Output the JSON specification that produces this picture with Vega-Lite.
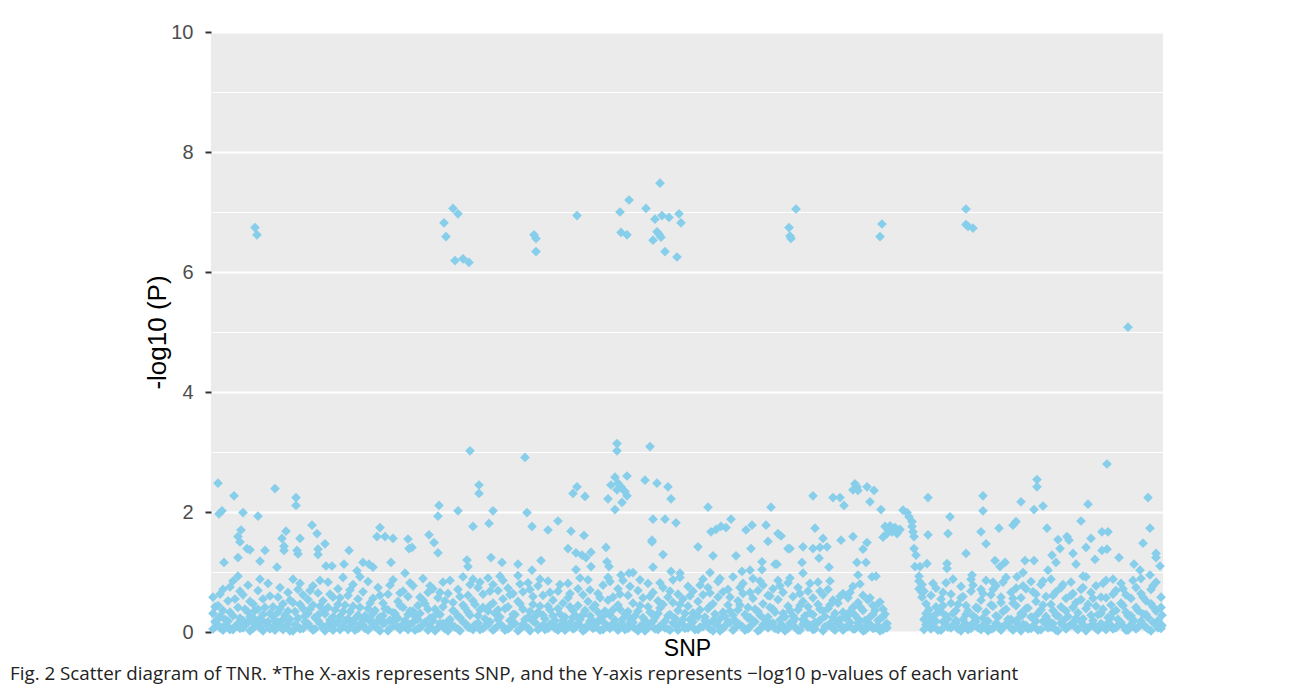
{
"$schema": "https://vega.github.io/schema/vega-lite/v6.json",
"width": 952,
"height": 600,
"autosize": {"type": "none"},
"padding": {"left": 211, "top": 32, "right": 130, "bottom": 65},
"background": "white",
"config": {"view": {"fill": "#EBEBEB", "stroke": null}},
"title": {"text": "Fig. 2  Scatter diagram of TNR. *The X-axis represents SNP, and the Y-axis represents −log10 p-values of each variant", "orient": "bottom", "anchor": "start", "frame": "group", "dx": -201, "offset": 5, "font": "Open Sans", "fontSize": 18.8, "fontWeight": "normal", "color": "#222222"},
"datasets": {
"pts": [
{"snp":255,"logp":6.74},{"snp":257,"logp":6.62},{"snp":444,"logp":6.82},{"snp":446,"logp":6.59},{"snp":453,"logp":7.06},{"snp":458,"logp":6.97},{"snp":455,"logp":6.19},{"snp":463,"logp":6.22},{"snp":469,"logp":6.16},{"snp":534,"logp":6.62},{"snp":536,"logp":6.56},{"snp":536,"logp":6.34},{"snp":577,"logp":6.94},{"snp":620,"logp":7.0},{"snp":621,"logp":6.66},{"snp":627,"logp":6.62},{"snp":629,"logp":7.2},{"snp":646,"logp":7.06},{"snp":655,"logp":6.88},{"snp":660,"logp":7.48},{"snp":662,"logp":6.94},{"snp":669,"logp":6.91},{"snp":657,"logp":6.67},{"snp":659,"logp":6.63},{"snp":661,"logp":6.58},{"snp":653,"logp":6.53},{"snp":665,"logp":6.34},{"snp":679,"logp":6.97},{"snp":681,"logp":6.82},{"snp":677,"logp":6.25},{"snp":789,"logp":6.74},{"snp":790,"logp":6.6},{"snp":791,"logp":6.56},{"snp":796,"logp":7.05},{"snp":880,"logp":6.59},{"snp":882,"logp":6.8},{"snp":966,"logp":7.05},{"snp":966,"logp":6.79},{"snp":968,"logp":6.76},{"snp":973,"logp":6.73},{"snp":1128,"logp":5.08},
{"snp":218,"logp":2.48},{"snp":234,"logp":2.27},{"snp":275,"logp":2.39},{"snp":296,"logp":2.24},{"snp":296,"logp":2.11},{"snp":219,"logp":1.97},{"snp":222,"logp":2.02},{"snp":243,"logp":1.99},{"snp":258,"logp":1.93},{"snp":312,"logp":1.78},{"snp":317,"logp":1.64},{"snp":241,"logp":1.7},{"snp":238,"logp":1.59},{"snp":240,"logp":1.5},{"snp":247,"logp":1.39},{"snp":250,"logp":1.37},{"snp":286,"logp":1.68},{"snp":282,"logp":1.56},{"snp":284,"logp":1.43},{"snp":284,"logp":1.36},{"snp":300,"logp":1.56},{"snp":297,"logp":1.36},{"snp":298,"logp":1.3},{"snp":325,"logp":1.47},{"snp":318,"logp":1.38},{"snp":318,"logp":1.29},{"snp":265,"logp":1.36},{"snp":349,"logp":1.36},{"snp":238,"logp":1.24},{"snp":260,"logp":1.18},{"snp":224,"logp":1.16},{"snp":277,"logp":1.08},{"snp":326,"logp":1.1},{"snp":332,"logp":1.1},{"snp":344,"logp":1.13},{"snp":363,"logp":1.16},{"snp":369,"logp":1.13},{"snp":373,"logp":1.08},{"snp":380,"logp":1.74},{"snp":377,"logp":1.59},{"snp":385,"logp":1.59},{"snp":393,"logp":1.56},{"snp":391,"logp":1.16},{"snp":357,"logp":1.02},
{"snp":470,"logp":3.02},{"snp":525,"logp":2.91},{"snp":479,"logp":2.45},{"snp":479,"logp":2.31},{"snp":439,"logp":2.11},{"snp":438,"logp":1.93},{"snp":458,"logp":2.02},{"snp":493,"logp":2.02},{"snp":473,"logp":1.76},{"snp":489,"logp":1.81},{"snp":527,"logp":1.99},{"snp":532,"logp":1.76},{"snp":548,"logp":1.7},{"snp":558,"logp":1.85},{"snp":571,"logp":1.68},{"snp":584,"logp":1.61},{"snp":577,"logp":2.42},{"snp":573,"logp":2.31},{"snp":585,"logp":2.26},{"snp":408,"logp":1.55},{"snp":409,"logp":1.39},{"snp":412,"logp":1.41},{"snp":429,"logp":1.62},{"snp":434,"logp":1.49},{"snp":438,"logp":1.32},{"snp":405,"logp":0.98},{"snp":467,"logp":1.2},{"snp":468,"logp":1.09},{"snp":491,"logp":1.24},{"snp":502,"logp":1.16},{"snp":518,"logp":1.13},{"snp":541,"logp":1.19},{"snp":532,"logp":1.03},{"snp":568,"logp":1.39},{"snp":576,"logp":1.32},{"snp":582,"logp":1.28},{"snp":586,"logp":1.24},{"snp":591,"logp":1.09},{"snp":576,"logp":1.04},{"snp":591,"logp":1.33},
{"snp":617,"logp":3.14},{"snp":617,"logp":3.02},{"snp":650,"logp":3.09},{"snp":615,"logp":2.58},{"snp":627,"logp":2.6},{"snp":611,"logp":2.45},{"snp":618,"logp":2.48},{"snp":621,"logp":2.42},{"snp":617,"logp":2.37},{"snp":625,"logp":2.34},{"snp":608,"logp":2.22},{"snp":627,"logp":2.27},{"snp":622,"logp":2.16},{"snp":615,"logp":2.04},{"snp":645,"logp":2.53},{"snp":657,"logp":2.48},{"snp":668,"logp":2.42},{"snp":671,"logp":2.22},{"snp":653,"logp":1.88},{"snp":665,"logp":1.88},{"snp":676,"logp":1.82},{"snp":708,"logp":2.08},{"snp":771,"logp":2.08},{"snp":652,"logp":1.53},{"snp":652,"logp":1.5},{"snp":711,"logp":1.67},{"snp":716,"logp":1.71},{"snp":721,"logp":1.76},{"snp":726,"logp":1.74},{"snp":731,"logp":1.88},{"snp":746,"logp":1.7},{"snp":752,"logp":1.78},{"snp":766,"logp":1.78},{"snp":778,"logp":1.64},{"snp":781,"logp":1.6},{"snp":768,"logp":1.51},{"snp":606,"logp":1.41},{"snp":698,"logp":1.42},{"snp":663,"logp":1.29},{"snp":713,"logp":1.27},{"snp":736,"logp":1.27},{"snp":751,"logp":1.39},{"snp":788,"logp":1.39},{"snp":607,"logp":1.17},{"snp":609,"logp":1.09},{"snp":762,"logp":1.17},{"snp":775,"logp":1.13},{"snp":777,"logp":1.13},{"snp":762,"logp":1.04},{"snp":653,"logp":1.08},{"snp":633,"logp":0.99},{"snp":629,"logp":0.98},{"snp":671,"logp":1.01},{"snp":680,"logp":0.98},{"snp":710,"logp":0.99},{"snp":621,"logp":0.95},{"snp":742,"logp":1.01},{"snp":750,"logp":1.03},
{"snp":813,"logp":2.27},{"snp":833,"logp":2.24},{"snp":840,"logp":2.24},{"snp":844,"logp":2.11},{"snp":855,"logp":2.47},{"snp":857,"logp":2.42},{"snp":853,"logp":2.37},{"snp":858,"logp":2.36},{"snp":867,"logp":2.42},{"snp":874,"logp":2.36},{"snp":870,"logp":2.17},{"snp":881,"logp":2.04},{"snp":903,"logp":2.03},{"snp":907,"logp":1.99},{"snp":909,"logp":1.92},{"snp":912,"logp":1.84},{"snp":912,"logp":1.76},{"snp":913,"logp":1.67},{"snp":914,"logp":1.59},{"snp":885,"logp":1.76},{"snp":890,"logp":1.77},{"snp":895,"logp":1.74},{"snp":900,"logp":1.71},{"snp":887,"logp":1.64},{"snp":883,"logp":1.58},{"snp":892,"logp":1.67},{"snp":897,"logp":1.64},{"snp":888,"logp":1.7},{"snp":893,"logp":1.72},{"snp":898,"logp":1.68},{"snp":914,"logp":1.39},{"snp":916,"logp":1.28},{"snp":915,"logp":1.09},{"snp":920,"logp":1.09},{"snp":928,"logp":2.24},{"snp":928,"logp":1.62},{"snp":950,"logp":1.92},{"snp":948,"logp":1.64},{"snp":966,"logp":1.31},{"snp":981,"logp":1.67},{"snp":815,"logp":1.73},{"snp":823,"logp":1.56},{"snp":841,"logp":1.53},{"snp":853,"logp":1.59},{"snp":803,"logp":1.42},{"snp":813,"logp":1.39},{"snp":820,"logp":1.41},{"snp":827,"logp":1.42},{"snp":863,"logp":1.38},{"snp":867,"logp":1.49},{"snp":819,"logp":1.23},{"snp":802,"logp":1.16},{"snp":857,"logp":1.16},{"snp":866,"logp":1.16},{"snp":829,"logp":1.08},{"snp":803,"logp":0.98},{"snp":858,"logp":0.95},{"snp":872,"logp":0.92},{"snp":876,"logp":0.93},{"snp":927,"logp":1.14},{"snp":947,"logp":1.14},{"snp":947,"logp":1.06},{"snp":972,"logp":0.95},{"snp":790,"logp":1.39},
{"snp":1107,"logp":2.8},{"snp":1037,"logp":2.54},{"snp":1037,"logp":2.42},{"snp":1148,"logp":2.24},{"snp":1088,"logp":2.13},{"snp":1021,"logp":2.17},{"snp":1034,"logp":2.04},{"snp":1043,"logp":2.1},{"snp":983,"logp":2.27},{"snp":983,"logp":2.02},{"snp":1081,"logp":1.85},{"snp":1013,"logp":1.78},{"snp":1016,"logp":1.84},{"snp":999,"logp":1.73},{"snp":1047,"logp":1.73},{"snp":1102,"logp":1.67},{"snp":1108,"logp":1.67},{"snp":1150,"logp":1.73},{"snp":1058,"logp":1.54},{"snp":1067,"logp":1.59},{"snp":1069,"logp":1.53},{"snp":1091,"logp":1.56},{"snp":1086,"logp":1.41},{"snp":1060,"logp":1.39},{"snp":1102,"logp":1.36},{"snp":1107,"logp":1.38},{"snp":1073,"logp":1.31},{"snp":1052,"logp":1.28},{"snp":1095,"logp":1.21},{"snp":1119,"logp":1.24},{"snp":1143,"logp":1.48},{"snp":1156,"logp":1.31},{"snp":1156,"logp":1.24},{"snp":1160,"logp":1.1},{"snp":986,"logp":1.47},{"snp":995,"logp":1.19},{"snp":1000,"logp":1.09},{"snp":1005,"logp":1.16},{"snp":1025,"logp":1.19},{"snp":1034,"logp":1.19},{"snp":1056,"logp":1.16},{"snp":1076,"logp":1.13},{"snp":1134,"logp":1.13},{"snp":1140,"logp":1.03},{"snp":1023,"logp":0.99},{"snp":1017,"logp":0.92},{"snp":1048,"logp":1.03},{"snp":1113,"logp":0.88},{"snp":1150,"logp":0.95},{"snp":993,"logp":0.83},{"snp":1083,"logp":0.93},
{"snp":213,"logp":0.05},{"snp":213,"logp":0.31},{"snp":213,"logp":0.58},{"snp":218,"logp":0.12},{"snp":218,"logp":0.44},{"snp":218,"logp":0.22},{"snp":223,"logp":0.03},{"snp":223,"logp":0.36},{"snp":223,"logp":0.71},{"snp":228,"logp":0.18},{"snp":228,"logp":0.52},{"snp":228,"logp":0.09},{"snp":233,"logp":0.27},{"snp":233,"logp":0.85},{"snp":233,"logp":0.04},{"snp":238,"logp":0.41},{"snp":238,"logp":0.93},{"snp":238,"logp":0.14},{"snp":243,"logp":0.19},{"snp":243,"logp":0.62},{"snp":243,"logp":0.07},{"snp":248,"logp":0.16},{"snp":248,"logp":0.33},{"snp":248,"logp":0.78},{"snp":253,"logp":0.06},{"snp":253,"logp":0.47},{"snp":253,"logp":0.24},{"snp":258,"logp":0.15},{"snp":258,"logp":0.69},{"snp":258,"logp":0.38},{"snp":263,"logp":0.02},{"snp":263,"logp":0.29},{"snp":263,"logp":0.55},{"snp":268,"logp":0.17},{"snp":268,"logp":0.81},{"snp":268,"logp":0.11},{"snp":273,"logp":0.08},{"snp":273,"logp":0.42},{"snp":273,"logp":0.26},{"snp":278,"logp":0.16},{"snp":278,"logp":0.58},{"snp":278,"logp":0.33},{"snp":283,"logp":0.04},{"snp":283,"logp":0.21},{"snp":283,"logp":0.47},{"snp":288,"logp":0.13},{"snp":288,"logp":0.66},{"snp":288,"logp":0.35},{"snp":293,"logp":0.02},{"snp":293,"logp":0.49},{"snp":293,"logp":0.88},{"snp":298,"logp":0.23},{"snp":298,"logp":0.71},{"snp":298,"logp":0.09},{"snp":303,"logp":0.06},{"snp":303,"logp":0.39},{"snp":303,"logp":0.62},{"snp":308,"logp":0.31},{"snp":308,"logp":0.14},{"snp":308,"logp":0.54},{"snp":313,"logp":0.03},{"snp":313,"logp":0.45},{"snp":313,"logp":0.77},{"snp":318,"logp":0.19},{"snp":318,"logp":0.28},{"snp":318,"logp":0.65},{"snp":323,"logp":0.07},{"snp":323,"logp":0.52},{"snp":323,"logp":0.36},{"snp":328,"logp":0.12},{"snp":328,"logp":0.83},{"snp":328,"logp":0.41},{"snp":333,"logp":0.03},{"snp":333,"logp":0.25},{"snp":333,"logp":0.58},{"snp":338,"logp":0.17},{"snp":338,"logp":0.72},{"snp":338,"logp":0.46},{"snp":343,"logp":0.09},{"snp":343,"logp":0.34},{"snp":343,"logp":0.91},{"snp":348,"logp":0.04},{"snp":348,"logp":0.61},{"snp":348,"logp":0.22},{"snp":353,"logp":0.15},{"snp":353,"logp":0.43},{"snp":353,"logp":0.79},{"snp":358,"logp":0.06},{"snp":358,"logp":0.28},{"snp":358,"logp":0.55},{"snp":363,"logp":0.21},{"snp":363,"logp":0.67},{"snp":363,"logp":0.12},{"snp":368,"logp":0.03},{"snp":368,"logp":0.39},{"snp":368,"logp":0.84},{"snp":373,"logp":0.11},{"snp":373,"logp":0.56},{"snp":373,"logp":0.31},{"snp":378,"logp":0.05},{"snp":378,"logp":0.74},{"snp":378,"logp":0.19},{"snp":383,"logp":0.14},{"snp":383,"logp":0.48},{"snp":383,"logp":0.27},{"snp":388,"logp":0.02},{"snp":388,"logp":0.63},{"snp":388,"logp":0.37},{"snp":393,"logp":0.18},{"snp":393,"logp":0.32},{"snp":393,"logp":0.87},{"snp":398,"logp":0.08},{"snp":398,"logp":0.51},{"snp":398,"logp":0.23},{"snp":403,"logp":0.13},{"snp":403,"logp":0.68},{"snp":403,"logp":0.41},{"snp":408,"logp":0.04},{"snp":408,"logp":0.29},{"snp":408,"logp":0.59},{"snp":413,"logp":0.16},{"snp":413,"logp":0.77},{"snp":413,"logp":0.35},{"snp":418,"logp":0.06},{"snp":418,"logp":0.44},{"snp":418,"logp":0.21},{"snp":423,"logp":0.12},{"snp":423,"logp":0.89},{"snp":423,"logp":0.53},{"snp":428,"logp":0.03},{"snp":428,"logp":0.38},{"snp":428,"logp":0.66},{"snp":433,"logp":0.19},{"snp":433,"logp":0.25},{"snp":433,"logp":0.72},{"snp":438,"logp":0.07},{"snp":438,"logp":0.57},{"snp":438,"logp":0.31},{"snp":443,"logp":0.14},{"snp":443,"logp":0.42},{"snp":443,"logp":0.83},{"snp":448,"logp":0.02},{"snp":448,"logp":0.64},{"snp":448,"logp":0.18},{"snp":453,"logp":0.1},{"snp":453,"logp":0.36},{"snp":453,"logp":0.49},{"snp":458,"logp":0.05},{"snp":458,"logp":0.71},{"snp":458,"logp":0.26},{"snp":463,"logp":0.17},{"snp":463,"logp":0.45},{"snp":463,"logp":0.92},{"snp":468,"logp":0.08},{"snp":468,"logp":0.33},{"snp":468,"logp":0.61},{"snp":473,"logp":0.04},{"snp":473,"logp":0.52},{"snp":473,"logp":0.88},{"snp":478,"logp":0.15},{"snp":478,"logp":0.27},{"snp":478,"logp":0.74},{"snp":483,"logp":0.06},{"snp":483,"logp":0.63},{"snp":483,"logp":0.41},{"snp":488,"logp":0.12},{"snp":488,"logp":0.35},{"snp":488,"logp":0.9},{"snp":493,"logp":0.03},{"snp":493,"logp":0.48},{"snp":493,"logp":0.79},{"snp":498,"logp":0.21},{"snp":498,"logp":0.69},{"snp":498,"logp":0.37},{"snp":503,"logp":0.09},{"snp":503,"logp":0.55},{"snp":503,"logp":0.86},{"snp":508,"logp":0.05},{"snp":508,"logp":0.42},{"snp":508,"logp":0.73},{"snp":513,"logp":0.16},{"snp":513,"logp":0.29},{"snp":513,"logp":0.64},{"snp":518,"logp":0.02},{"snp":518,"logp":0.51},{"snp":518,"logp":0.94},{"snp":523,"logp":0.13},{"snp":523,"logp":0.38},{"snp":523,"logp":0.67},{"snp":528,"logp":0.07},{"snp":528,"logp":0.82},{"snp":528,"logp":0.24},{"snp":533,"logp":0.18},{"snp":533,"logp":0.46},{"snp":533,"logp":0.59},{"snp":538,"logp":0.04},{"snp":538,"logp":0.33},{"snp":538,"logp":0.77},{"snp":543,"logp":0.11},{"snp":543,"logp":0.61},{"snp":543,"logp":0.28},{"snp":548,"logp":0.06},{"snp":548,"logp":0.43},{"snp":548,"logp":0.85},{"snp":553,"logp":0.14},{"snp":553,"logp":0.27},{"snp":553,"logp":0.53},{"snp":558,"logp":0.03},{"snp":558,"logp":0.68},{"snp":558,"logp":0.39},{"snp":563,"logp":0.19},{"snp":563,"logp":0.48},{"snp":563,"logp":0.12},{"snp":568,"logp":0.08},{"snp":568,"logp":0.57},{"snp":568,"logp":0.81},{"snp":573,"logp":0.05},{"snp":573,"logp":0.36},{"snp":573,"logp":0.24},{"snp":578,"logp":0.15},{"snp":578,"logp":0.72},{"snp":578,"logp":0.44},{"snp":583,"logp":0.02},{"snp":583,"logp":0.29},{"snp":583,"logp":0.62},{"snp":588,"logp":0.12},{"snp":588,"logp":0.51},{"snp":588,"logp":0.87},{"snp":593,"logp":0.06},{"snp":593,"logp":0.41},{"snp":593,"logp":0.18},{"snp":598,"logp":0.17},{"snp":598,"logp":0.64},{"snp":598,"logp":0.33},{"snp":603,"logp":0.04},{"snp":603,"logp":0.26},{"snp":603,"logp":0.78},{"snp":608,"logp":0.09},{"snp":608,"logp":0.53},{"snp":608,"logp":0.91},{"snp":613,"logp":0.14},{"snp":613,"logp":0.37},{"snp":613,"logp":0.58},{"snp":618,"logp":0.03},{"snp":618,"logp":0.45},{"snp":618,"logp":0.72},{"snp":623,"logp":0.11},{"snp":623,"logp":0.22},{"snp":623,"logp":0.86},{"snp":628,"logp":0.06},{"snp":628,"logp":0.61},{"snp":628,"logp":0.34},{"snp":633,"logp":0.16},{"snp":633,"logp":0.48},{"snp":633,"logp":0.09},{"snp":638,"logp":0.02},{"snp":638,"logp":0.35},{"snp":638,"logp":0.69},{"snp":643,"logp":0.13},{"snp":643,"logp":0.57},{"snp":643,"logp":0.24},{"snp":648,"logp":0.07},{"snp":648,"logp":0.42},{"snp":648,"logp":0.81},{"snp":653,"logp":0.18},{"snp":653,"logp":0.66},{"snp":653,"logp":0.29},{"snp":658,"logp":0.04},{"snp":658,"logp":0.31},{"snp":658,"logp":0.52},{"snp":663,"logp":0.1},{"snp":663,"logp":0.74},{"snp":663,"logp":0.46},{"snp":668,"logp":0.05},{"snp":668,"logp":0.27},{"snp":668,"logp":0.58},{"snp":673,"logp":0.15},{"snp":673,"logp":0.49},{"snp":673,"logp":0.87},{"snp":678,"logp":0.03},{"snp":678,"logp":0.36},{"snp":678,"logp":0.63},{"snp":683,"logp":0.12},{"snp":683,"logp":0.55},{"snp":683,"logp":0.21},{"snp":688,"logp":0.07},{"snp":688,"logp":0.43},{"snp":688,"logp":0.76},{"snp":693,"logp":0.17},{"snp":693,"logp":0.68},{"snp":693,"logp":0.32},{"snp":698,"logp":0.04},{"snp":698,"logp":0.26},{"snp":698,"logp":0.51},{"snp":703,"logp":0.09},{"snp":703,"logp":0.62},{"snp":703,"logp":0.88},{"snp":708,"logp":0.14},{"snp":708,"logp":0.39},{"snp":708,"logp":0.74},{"snp":713,"logp":0.02},{"snp":713,"logp":0.47},{"snp":713,"logp":0.19},{"snp":718,"logp":0.11},{"snp":718,"logp":0.58},{"snp":718,"logp":0.84},{"snp":723,"logp":0.06},{"snp":723,"logp":0.33},{"snp":723,"logp":0.67},{"snp":728,"logp":0.16},{"snp":728,"logp":0.71},{"snp":728,"logp":0.45},{"snp":733,"logp":0.03},{"snp":733,"logp":0.28},{"snp":733,"logp":0.92},{"snp":738,"logp":0.13},{"snp":738,"logp":0.52},{"snp":738,"logp":0.37},{"snp":743,"logp":0.08},{"snp":743,"logp":0.64},{"snp":743,"logp":0.81},{"snp":748,"logp":0.05},{"snp":748,"logp":0.41},{"snp":748,"logp":0.23},{"snp":753,"logp":0.18},{"snp":753,"logp":0.56},{"snp":753,"logp":0.89},{"snp":758,"logp":0.02},{"snp":758,"logp":0.34},{"snp":758,"logp":0.69},{"snp":763,"logp":0.12},{"snp":763,"logp":0.47},{"snp":763,"logp":0.78},{"snp":768,"logp":0.07},{"snp":768,"logp":0.25},{"snp":768,"logp":0.61},{"snp":773,"logp":0.15},{"snp":773,"logp":0.72},{"snp":773,"logp":0.38},{"snp":778,"logp":0.04},{"snp":778,"logp":0.54},{"snp":778,"logp":0.86},{"snp":783,"logp":0.1},{"snp":783,"logp":0.31},{"snp":783,"logp":0.66},{"snp":788,"logp":0.06},{"snp":788,"logp":0.43},{"snp":788,"logp":0.82},{"snp":793,"logp":0.17},{"snp":793,"logp":0.59},{"snp":793,"logp":0.27},{"snp":798,"logp":0.03},{"snp":798,"logp":0.37},{"snp":798,"logp":0.74},{"snp":803,"logp":0.13},{"snp":803,"logp":0.51},{"snp":803,"logp":0.21},{"snp":808,"logp":0.08},{"snp":808,"logp":0.68},{"snp":808,"logp":0.42},{"snp":813,"logp":0.04},{"snp":813,"logp":0.29},{"snp":813,"logp":0.57},{"snp":818,"logp":0.16},{"snp":818,"logp":0.46},{"snp":818,"logp":0.83},{"snp":823,"logp":0.02},{"snp":823,"logp":0.62},{"snp":823,"logp":0.35},{"snp":828,"logp":0.11},{"snp":828,"logp":0.39},{"snp":828,"logp":0.71},{"snp":833,"logp":0.06},{"snp":833,"logp":0.24},{"snp":833,"logp":0.53},{"snp":838,"logp":0.14},{"snp":838,"logp":0.48},{"snp":838,"logp":0.18},{"snp":843,"logp":0.03},{"snp":843,"logp":0.33},{"snp":843,"logp":0.64},{"snp":848,"logp":0.09},{"snp":848,"logp":0.57},{"snp":848,"logp":0.27},{"snp":853,"logp":0.05},{"snp":853,"logp":0.41},{"snp":853,"logp":0.76},{"snp":858,"logp":0.15},{"snp":858,"logp":0.22},{"snp":858,"logp":0.49},{"snp":863,"logp":0.02},{"snp":863,"logp":0.36},{"snp":863,"logp":0.61},{"snp":868,"logp":0.12},{"snp":868,"logp":0.53},{"snp":868,"logp":0.08},{"snp":873,"logp":0.06},{"snp":873,"logp":0.29},{"snp":873,"logp":0.44},{"snp":878,"logp":0.1},{"snp":878,"logp":0.47},{"snp":878,"logp":0.19},{"snp":883,"logp":0.04},{"snp":883,"logp":0.25},{"snp":883,"logp":0.38},{"snp":887,"logp":0.14},{"snp":887,"logp":0.07},
{"snp":919,"logp":0.72},{"snp":919,"logp":0.85},{"snp":919,"logp":0.93},{"snp":922,"logp":0.66},{"snp":922,"logp":0.79},{"snp":922,"logp":0.58},{"snp":926,"logp":0.12},{"snp":926,"logp":0.47},{"snp":926,"logp":0.31},{"snp":931,"logp":0.05},{"snp":931,"logp":0.61},{"snp":931,"logp":0.24},{"snp":936,"logp":0.18},{"snp":936,"logp":0.42},{"snp":936,"logp":0.73},{"snp":941,"logp":0.03},{"snp":941,"logp":0.55},{"snp":941,"logp":0.34},{"snp":946,"logp":0.11},{"snp":946,"logp":0.27},{"snp":946,"logp":0.82},{"snp":951,"logp":0.07},{"snp":951,"logp":0.48},{"snp":951,"logp":0.63},{"snp":956,"logp":0.15},{"snp":956,"logp":0.36},{"snp":956,"logp":0.19},{"snp":961,"logp":0.02},{"snp":961,"logp":0.57},{"snp":961,"logp":0.76},{"snp":966,"logp":0.13},{"snp":966,"logp":0.29},{"snp":966,"logp":0.44},{"snp":971,"logp":0.06},{"snp":971,"logp":0.68},{"snp":971,"logp":0.88},{"snp":976,"logp":0.17},{"snp":976,"logp":0.41},{"snp":976,"logp":0.23},{"snp":981,"logp":0.04},{"snp":981,"logp":0.53},{"snp":981,"logp":0.71},{"snp":986,"logp":0.1},{"snp":986,"logp":0.33},{"snp":986,"logp":0.86},{"snp":991,"logp":0.05},{"snp":991,"logp":0.62},{"snp":991,"logp":0.45},{"snp":996,"logp":0.14},{"snp":996,"logp":0.27},{"snp":996,"logp":0.77},{"snp":1001,"logp":0.03},{"snp":1001,"logp":0.49},{"snp":1001,"logp":0.58},{"snp":1006,"logp":0.12},{"snp":1006,"logp":0.38},{"snp":1006,"logp":0.91},{"snp":1011,"logp":0.07},{"snp":1011,"logp":0.66},{"snp":1011,"logp":0.21},{"snp":1016,"logp":0.16},{"snp":1016,"logp":0.44},{"snp":1016,"logp":0.73},{"snp":1021,"logp":0.02},{"snp":1021,"logp":0.31},{"snp":1021,"logp":0.57},{"snp":1026,"logp":0.11},{"snp":1026,"logp":0.72},{"snp":1026,"logp":0.39},{"snp":1031,"logp":0.06},{"snp":1031,"logp":0.25},{"snp":1031,"logp":0.84},{"snp":1036,"logp":0.18},{"snp":1036,"logp":0.51},{"snp":1036,"logp":0.63},{"snp":1041,"logp":0.04},{"snp":1041,"logp":0.37},{"snp":1041,"logp":0.79},{"snp":1046,"logp":0.13},{"snp":1046,"logp":0.59},{"snp":1046,"logp":0.26},{"snp":1051,"logp":0.08},{"snp":1051,"logp":0.46},{"snp":1051,"logp":0.88},{"snp":1056,"logp":0.03},{"snp":1056,"logp":0.28},{"snp":1056,"logp":0.67},{"snp":1061,"logp":0.15},{"snp":1061,"logp":0.74},{"snp":1061,"logp":0.42},{"snp":1066,"logp":0.05},{"snp":1066,"logp":0.35},{"snp":1066,"logp":0.56},{"snp":1071,"logp":0.12},{"snp":1071,"logp":0.61},{"snp":1071,"logp":0.83},{"snp":1076,"logp":0.07},{"snp":1076,"logp":0.23},{"snp":1076,"logp":0.49},{"snp":1081,"logp":0.17},{"snp":1081,"logp":0.54},{"snp":1081,"logp":0.71},{"snp":1086,"logp":0.02},{"snp":1086,"logp":0.39},{"snp":1086,"logp":0.92},{"snp":1091,"logp":0.1},{"snp":1091,"logp":0.66},{"snp":1091,"logp":0.28},{"snp":1096,"logp":0.06},{"snp":1096,"logp":0.43},{"snp":1096,"logp":0.77},{"snp":1101,"logp":0.14},{"snp":1101,"logp":0.31},{"snp":1101,"logp":0.58},{"snp":1106,"logp":0.04},{"snp":1106,"logp":0.57},{"snp":1106,"logp":0.86},{"snp":1111,"logp":0.11},{"snp":1111,"logp":0.24},{"snp":1111,"logp":0.45},{"snp":1116,"logp":0.07},{"snp":1116,"logp":0.69},{"snp":1116,"logp":0.36},{"snp":1121,"logp":0.16},{"snp":1121,"logp":0.48},{"snp":1121,"logp":0.81},{"snp":1126,"logp":0.03},{"snp":1126,"logp":0.33},{"snp":1126,"logp":0.62},{"snp":1131,"logp":0.12},{"snp":1131,"logp":0.56},{"snp":1131,"logp":0.27},{"snp":1136,"logp":0.05},{"snp":1136,"logp":0.41},{"snp":1136,"logp":0.74},{"snp":1141,"logp":0.18},{"snp":1141,"logp":0.64},{"snp":1141,"logp":0.89},{"snp":1146,"logp":0.08},{"snp":1146,"logp":0.29},{"snp":1146,"logp":0.52},{"snp":1151,"logp":0.02},{"snp":1151,"logp":0.47},{"snp":1151,"logp":0.71},{"snp":1156,"logp":0.13},{"snp":1156,"logp":0.35},{"snp":1156,"logp":0.83},{"snp":1161,"logp":0.06},{"snp":1161,"logp":0.58},{"snp":1161,"logp":0.41},
{"snp":215,"logp":0.17},{"snp":215,"logp":0.42},{"snp":220,"logp":0.07},{"snp":220,"logp":0.26},{"snp":220,"logp":0.63},{"snp":225,"logp":0.21},{"snp":225,"logp":0.11},{"snp":230,"logp":0.33},{"snp":230,"logp":0.04},{"snp":230,"logp":0.75},{"snp":235,"logp":0.09},{"snp":235,"logp":0.55},{"snp":240,"logp":0.23},{"snp":240,"logp":0.06},{"snp":240,"logp":0.68},{"snp":245,"logp":0.38},{"snp":245,"logp":0.12},{"snp":250,"logp":0.02},{"snp":250,"logp":0.25},{"snp":250,"logp":0.51},{"snp":255,"logp":0.13},{"snp":255,"logp":0.36},{"snp":260,"logp":0.07},{"snp":260,"logp":0.22},{"snp":260,"logp":0.88},{"snp":265,"logp":0.41},{"snp":265,"logp":0.15},{"snp":270,"logp":0.05},{"snp":270,"logp":0.31},{"snp":270,"logp":0.6},{"snp":275,"logp":0.19},{"snp":275,"logp":0.03},{"snp":280,"logp":0.11},{"snp":280,"logp":0.39},{"snp":280,"logp":0.74},{"snp":285,"logp":0.28},{"snp":285,"logp":0.08},{"snp":290,"logp":0.02},{"snp":290,"logp":0.21},{"snp":290,"logp":0.53},{"snp":295,"logp":0.34},{"snp":295,"logp":0.12},{"snp":300,"logp":0.05},{"snp":300,"logp":0.46},{"snp":300,"logp":0.81},{"snp":305,"logp":0.17},{"snp":305,"logp":0.27},{"snp":310,"logp":0.09},{"snp":310,"logp":0.38},{"snp":310,"logp":0.69},{"snp":315,"logp":0.24},{"snp":315,"logp":0.05},{"snp":320,"logp":0.14},{"snp":320,"logp":0.43},{"snp":320,"logp":0.86},{"snp":325,"logp":0.02},{"snp":325,"logp":0.3},{"snp":330,"logp":0.2},{"snp":330,"logp":0.08},{"snp":330,"logp":0.63},{"snp":335,"logp":0.37},{"snp":335,"logp":0.13},{"snp":340,"logp":0.04},{"snp":340,"logp":0.26},{"snp":340,"logp":0.57},{"snp":345,"logp":0.18},{"snp":345,"logp":0.45},{"snp":350,"logp":0.1},{"snp":350,"logp":0.34},{"snp":350,"logp":0.7},{"snp":355,"logp":0.03},{"snp":355,"logp":0.22},{"snp":360,"logp":0.13},{"snp":360,"logp":0.41},{"snp":360,"logp":0.92},{"snp":365,"logp":0.27},{"snp":365,"logp":0.06},{"snp":370,"logp":0.18},{"snp":370,"logp":0.48},{"snp":370,"logp":0.23},{"snp":375,"logp":0.09},{"snp":375,"logp":0.36},{"snp":380,"logp":0.02},{"snp":380,"logp":0.25},{"snp":380,"logp":0.61},{"snp":385,"logp":0.15},{"snp":385,"logp":0.39},{"snp":390,"logp":0.06},{"snp":390,"logp":0.2},{"snp":390,"logp":0.78},{"snp":395,"logp":0.31},{"snp":395,"logp":0.11},{"snp":400,"logp":0.04},{"snp":400,"logp":0.44},{"snp":400,"logp":0.65},{"snp":405,"logp":0.19},{"snp":405,"logp":0.08},{"snp":410,"logp":0.12},{"snp":410,"logp":0.35},{"snp":410,"logp":0.82},{"snp":415,"logp":0.26},{"snp":415,"logp":0.03},{"snp":420,"logp":0.07},{"snp":420,"logp":0.31},{"snp":420,"logp":0.58},{"snp":425,"logp":0.16},{"snp":425,"logp":0.47},{"snp":430,"logp":0.09},{"snp":430,"logp":0.23},{"snp":430,"logp":0.77},{"snp":435,"logp":0.38},{"snp":435,"logp":0.02},{"snp":440,"logp":0.14},{"snp":440,"logp":0.29},{"snp":440,"logp":0.66},{"snp":445,"logp":0.05},{"snp":445,"logp":0.52},{"snp":450,"logp":0.21},{"snp":450,"logp":0.11},{"snp":450,"logp":0.86},{"snp":455,"logp":0.33},{"snp":455,"logp":0.08},{"snp":460,"logp":0.02},{"snp":460,"logp":0.24},{"snp":460,"logp":0.59},{"snp":465,"logp":0.15},{"snp":465,"logp":0.4},{"snp":470,"logp":0.07},{"snp":470,"logp":0.28},{"snp":470,"logp":0.79},{"snp":475,"logp":0.12},{"snp":475,"logp":0.46},{"snp":480,"logp":0.04},{"snp":480,"logp":0.37},{"snp":480,"logp":0.83},{"snp":485,"logp":0.22},{"snp":485,"logp":0.1},{"snp":490,"logp":0.17},{"snp":490,"logp":0.44},{"snp":490,"logp":0.68},{"snp":495,"logp":0.06},{"snp":495,"logp":0.31},{"snp":500,"logp":0.13},{"snp":500,"logp":0.25},{"snp":500,"logp":0.93},{"snp":505,"logp":0.03},{"snp":505,"logp":0.39},{"snp":510,"logp":0.19},{"snp":510,"logp":0.08},{"snp":510,"logp":0.62},{"snp":515,"logp":0.29},{"snp":515,"logp":0.14},{"snp":520,"logp":0.05},{"snp":520,"logp":0.47},{"snp":520,"logp":0.8},{"snp":525,"logp":0.21},{"snp":525,"logp":0.1},{"snp":530,"logp":0.02},{"snp":530,"logp":0.34},{"snp":530,"logp":0.71},{"snp":535,"logp":0.16},{"snp":535,"logp":0.26},{"snp":540,"logp":0.08},{"snp":540,"logp":0.43},{"snp":540,"logp":0.88},{"snp":545,"logp":0.22},{"snp":545,"logp":0.04},{"snp":550,"logp":0.13},{"snp":550,"logp":0.37},{"snp":550,"logp":0.66},{"snp":555,"logp":0.06},{"snp":555,"logp":0.19},{"snp":560,"logp":0.1},{"snp":560,"logp":0.3},{"snp":560,"logp":0.79},{"snp":565,"logp":0.25},{"snp":565,"logp":0.03},{"snp":570,"logp":0.15},{"snp":570,"logp":0.42},{"snp":570,"logp":0.64},{"snp":575,"logp":0.07},{"snp":575,"logp":0.28},{"snp":580,"logp":0.11},{"snp":580,"logp":0.21},{"snp":580,"logp":0.9},{"snp":585,"logp":0.36},{"snp":585,"logp":0.04},{"snp":590,"logp":0.18},{"snp":590,"logp":0.27},{"snp":590,"logp":0.7},{"snp":595,"logp":0.08},{"snp":595,"logp":0.45},{"snp":600,"logp":0.03},{"snp":600,"logp":0.22},{"snp":600,"logp":0.57},{"snp":605,"logp":0.14},{"snp":605,"logp":0.35},{"snp":610,"logp":0.06},{"snp":610,"logp":0.28},{"snp":610,"logp":0.84},{"snp":615,"logp":0.2},{"snp":615,"logp":0.09},{"snp":620,"logp":0.12},{"snp":620,"logp":0.38},{"snp":620,"logp":0.63},{"snp":625,"logp":0.04},{"snp":625,"logp":0.3},{"snp":630,"logp":0.16},{"snp":630,"logp":0.23},{"snp":630,"logp":0.76},{"snp":635,"logp":0.27},{"snp":635,"logp":0.06},{"snp":640,"logp":0.09},{"snp":640,"logp":0.44},{"snp":640,"logp":0.87},{"snp":645,"logp":0.19},{"snp":645,"logp":0.02},{"snp":650,"logp":0.13},{"snp":650,"logp":0.33},{"snp":650,"logp":0.59},{"snp":655,"logp":0.05},{"snp":655,"logp":0.24},{"snp":660,"logp":0.1},{"snp":660,"logp":0.4},{"snp":660,"logp":0.82},{"snp":665,"logp":0.18},{"snp":665,"logp":0.07},{"snp":670,"logp":0.03},{"snp":670,"logp":0.29},{"snp":670,"logp":0.68},{"snp":675,"logp":0.23},{"snp":675,"logp":0.12},{"snp":680,"logp":0.15},{"snp":680,"logp":0.46},{"snp":680,"logp":0.91},{"snp":685,"logp":0.06},{"snp":685,"logp":0.31},{"snp":690,"logp":0.11},{"snp":690,"logp":0.21},{"snp":690,"logp":0.6},{"snp":695,"logp":0.28},{"snp":695,"logp":0.04},{"snp":700,"logp":0.08},{"snp":700,"logp":0.37},{"snp":700,"logp":0.78},{"snp":705,"logp":0.19},{"snp":705,"logp":0.25},{"snp":710,"logp":0.05},{"snp":710,"logp":0.43},{"snp":710,"logp":0.65},{"snp":715,"logp":0.14},{"snp":715,"logp":0.3},{"snp":720,"logp":0.02},{"snp":720,"logp":0.22},{"snp":720,"logp":0.89},{"snp":725,"logp":0.26},{"snp":725,"logp":0.1},{"snp":730,"logp":0.16},{"snp":730,"logp":0.35},{"snp":730,"logp":0.58},{"snp":735,"logp":0.07},{"snp":735,"logp":0.19},{"snp":740,"logp":0.12},{"snp":740,"logp":0.45},{"snp":740,"logp":0.74},{"snp":745,"logp":0.29},{"snp":745,"logp":0.03},{"snp":750,"logp":0.09},{"snp":750,"logp":0.24},{"snp":750,"logp":0.66},{"snp":755,"logp":0.17},{"snp":755,"logp":0.38},{"snp":760,"logp":0.04},{"snp":760,"logp":0.28},{"snp":760,"logp":0.85},{"snp":765,"logp":0.21},{"snp":765,"logp":0.12},{"snp":770,"logp":0.14},{"snp":770,"logp":0.41},{"snp":770,"logp":0.6},{"snp":775,"logp":0.06},{"snp":775,"logp":0.33},{"snp":780,"logp":0.1},{"snp":780,"logp":0.2},{"snp":780,"logp":0.77},{"snp":785,"logp":0.25},{"snp":785,"logp":0.02},{"snp":790,"logp":0.15},{"snp":790,"logp":0.36},{"snp":790,"logp":0.9},{"snp":795,"logp":0.08},{"snp":795,"logp":0.22},{"snp":800,"logp":0.03},{"snp":800,"logp":0.44},{"snp":800,"logp":0.64},{"snp":805,"logp":0.18},{"snp":805,"logp":0.27},{"snp":810,"logp":0.11},{"snp":810,"logp":0.32},{"snp":810,"logp":0.81},{"snp":815,"logp":0.05},{"snp":815,"logp":0.16},{"snp":820,"logp":0.2},{"snp":820,"logp":0.38},{"snp":820,"logp":0.68},{"snp":825,"logp":0.09},{"snp":825,"logp":0.26},{"snp":830,"logp":0.14},{"snp":830,"logp":0.45},{"snp":830,"logp":0.85},{"snp":835,"logp":0.03},{"snp":835,"logp":0.31},{"snp":840,"logp":0.12},{"snp":840,"logp":0.21},{"snp":840,"logp":0.59},{"snp":845,"logp":0.24},{"snp":845,"logp":0.07},{"snp":850,"logp":0.16},{"snp":850,"logp":0.34},{"snp":850,"logp":0.66},{"snp":855,"logp":0.05},{"snp":855,"logp":0.28},{"snp":860,"logp":0.1},{"snp":860,"logp":0.42},{"snp":860,"logp":0.8},{"snp":865,"logp":0.19},{"snp":865,"logp":0.03},{"snp":870,"logp":0.13},{"snp":870,"logp":0.25},{"snp":870,"logp":0.57},{"snp":875,"logp":0.07},{"snp":875,"logp":0.36},{"snp":880,"logp":0.02},{"snp":880,"logp":0.22},{"snp":880,"logp":0.5},{"snp":885,"logp":0.11},{"snp":885,"logp":0.3},
{"snp":924,"logp":0.04},{"snp":924,"logp":0.21},{"snp":924,"logp":0.68},{"snp":929,"logp":0.14},{"snp":929,"logp":0.37},{"snp":933,"logp":0.09},{"snp":933,"logp":0.26},{"snp":933,"logp":0.81},{"snp":938,"logp":0.03},{"snp":938,"logp":0.33},{"snp":943,"logp":0.17},{"snp":943,"logp":0.44},{"snp":943,"logp":0.66},{"snp":948,"logp":0.08},{"snp":948,"logp":0.22},{"snp":953,"logp":0.12},{"snp":953,"logp":0.31},{"snp":953,"logp":0.88},{"snp":958,"logp":0.05},{"snp":958,"logp":0.46},{"snp":963,"logp":0.21},{"snp":963,"logp":0.1},{"snp":963,"logp":0.59},{"snp":968,"logp":0.35},{"snp":968,"logp":0.04},{"snp":973,"logp":0.15},{"snp":973,"logp":0.27},{"snp":973,"logp":0.78},{"snp":978,"logp":0.07},{"snp":978,"logp":0.39},{"snp":983,"logp":0.11},{"snp":983,"logp":0.23},{"snp":983,"logp":0.64},{"snp":988,"logp":0.18},{"snp":988,"logp":0.02},{"snp":993,"logp":0.06},{"snp":993,"logp":0.43},{"snp":993,"logp":0.71},{"snp":998,"logp":0.25},{"snp":998,"logp":0.12},{"snp":1003,"logp":0.09},{"snp":1003,"logp":0.34},{"snp":1003,"logp":0.83},{"snp":1008,"logp":0.16},{"snp":1008,"logp":0.21},{"snp":1013,"logp":0.03},{"snp":1013,"logp":0.48},{"snp":1013,"logp":0.56},{"snp":1018,"logp":0.22},{"snp":1018,"logp":0.08},{"snp":1023,"logp":0.13},{"snp":1023,"logp":0.29},{"snp":1023,"logp":0.77},{"snp":1028,"logp":0.05},{"snp":1028,"logp":0.4},{"snp":1033,"logp":0.1},{"snp":1033,"logp":0.24},{"snp":1033,"logp":0.67},{"snp":1038,"logp":0.31},{"snp":1038,"logp":0.03},{"snp":1043,"logp":0.18},{"snp":1043,"logp":0.45},{"snp":1043,"logp":0.85},{"snp":1048,"logp":0.07},{"snp":1048,"logp":0.2},{"snp":1053,"logp":0.14},{"snp":1053,"logp":0.36},{"snp":1053,"logp":0.61},{"snp":1058,"logp":0.02},{"snp":1058,"logp":0.27},{"snp":1063,"logp":0.11},{"snp":1063,"logp":0.19},{"snp":1063,"logp":0.79},{"snp":1068,"logp":0.26},{"snp":1068,"logp":0.09},{"snp":1073,"logp":0.16},{"snp":1073,"logp":0.41},{"snp":1073,"logp":0.64},{"snp":1078,"logp":0.04},{"snp":1078,"logp":0.32},{"snp":1083,"logp":0.12},{"snp":1083,"logp":0.22},{"snp":1083,"logp":0.74},{"snp":1088,"logp":0.07},{"snp":1088,"logp":0.46},{"snp":1093,"logp":0.19},{"snp":1093,"logp":0.13},{"snp":1093,"logp":0.56},{"snp":1098,"logp":0.29},{"snp":1098,"logp":0.03},{"snp":1103,"logp":0.09},{"snp":1103,"logp":0.38},{"snp":1103,"logp":0.81},{"snp":1108,"logp":0.15},{"snp":1108,"logp":0.24},{"snp":1113,"logp":0.05},{"snp":1113,"logp":0.33},{"snp":1113,"logp":0.63},{"snp":1118,"logp":0.21},{"snp":1118,"logp":0.11},{"snp":1123,"logp":0.1},{"snp":1123,"logp":0.44},{"snp":1123,"logp":0.72},{"snp":1128,"logp":0.03},{"snp":1128,"logp":0.27},{"snp":1133,"logp":0.17},{"snp":1133,"logp":0.21},{"snp":1133,"logp":0.86},{"snp":1138,"logp":0.08},{"snp":1138,"logp":0.36},{"snp":1143,"logp":0.12},{"snp":1143,"logp":0.3},{"snp":1143,"logp":0.58},{"snp":1148,"logp":0.24},{"snp":1148,"logp":0.05},{"snp":1153,"logp":0.16},{"snp":1153,"logp":0.42},{"snp":1153,"logp":0.77},{"snp":1158,"logp":0.07},{"snp":1158,"logp":0.19},{"snp":1162,"logp":0.11},{"snp":1162,"logp":0.28}
]
},
"layer": [
{
"data": {"name": "pts"},
"mark": {"type": "point", "shape": "diamond", "filled": true, "size": 95, "color": "#87CEEB", "opacity": 1, "strokeWidth": 0, "clip": false},
"encoding": {
"x": {"field": "snp", "type": "quantitative", "scale": {"domain": [211, 1163], "nice": false, "zero": false},
"axis": {"title": "SNP", "ticks": false, "labels": false, "domain": false, "grid": false, "titleFont": "Liberation Sans", "titleFontSize": 23, "titleFontWeight": "normal", "titleColor": "#000000", "titlePadding": 5}},
"y": {"field": "logp", "type": "quantitative", "scale": {"domain": [0, 10], "nice": false, "zero": true},
"axis": {"title": "-log10 (P)", "values": [0, 1, 2, 3, 4, 5, 6, 7, 8, 9, 10], "labelExpr": "datum.value % 2 === 0 ? format(datum.value, 'd') : ''", "domain": false, "grid": true, "gridColor": "#FFFFFF", "gridWidth": {"condition": {"test": "datum.value % 2 === 1", "value": 1.2}, "value": 2}, "tickColor": "#333333", "tickSize": 6, "tickWidth": 2, "tickOpacity": {"condition": {"test": "datum.value % 2 === 1", "value": 0}, "value": 1}, "labelFont": "Liberation Sans", "labelFontSize": 20, "labelColor": "#4D4D4D", "labelPadding": 12, "titleFont": "Liberation Sans", "titleFontSize": 26, "titleFontWeight": "normal", "titleColor": "#000000", "titlePadding": 0}}
}
},
{
"mark": {"type": "rule", "color": "#444444", "strokeDash": [2, 4], "strokeWidth": 2},
"encoding": {"y": {"datum": 7.3}}
}
]
}
